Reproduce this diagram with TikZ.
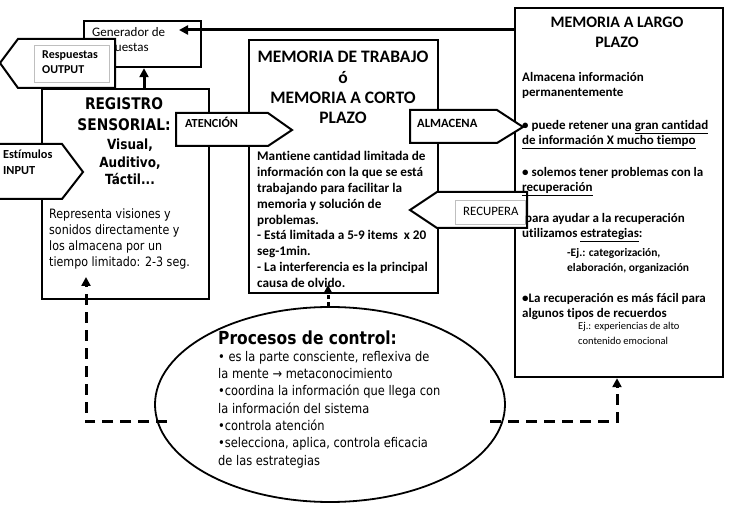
\documentclass[tikz,border=0pt]{standalone}
\usepackage{fontspec}
\setmainfont{Carlito}[Ligatures={NoCommon}]
\newfontfamily\tah[FakeStretch=0.86]{DejaVu Sans}
\usetikzlibrary{arrows.meta,shapes.geometric}
\newcommand\setfs[2]{\fontsize{#1}{#2}\selectfont}
\begin{document}
\begin{tikzpicture}[x=1pt,y=-1pt,
  box/.style={draw, line width=2.2pt, fill=white, inner sep=0pt, anchor=north west},
  pent/.style={draw, line width=2pt, fill=white, line join=miter},
  graybox/.style={draw=black!25, line width=0.7pt, fill=white, inner sep=0pt, anchor=north west},
  txt/.style={inner sep=0pt, anchor=north west, align=left},
  ctxt/.style={inner sep=0pt, anchor=north, align=center},
  arr/.style={line width=3pt, -{Triangle[width=9pt,length=9pt]}},
  dasharr/.style={line width=3pt, dash pattern=on 11pt off 7pt, -{Triangle[width=9pt,length=9pt]}},
  dotarr/.style={line width=3pt, dash pattern=on 4pt off 3pt, -{Triangle[width=9pt,length=9pt]}}
]
\useasboundingbox (0,0) rectangle (732,513);

% main boxes
\node[box, minimum width=117pt, minimum height=46pt] (gen) at (83,20) {};
\node[box, minimum width=167pt, minimum height=210pt] (reg) at (41,88) {};
\node[box, minimum width=189pt, minimum height=253pt] (mt) at (248,39) {};
\node[box, minimum width=208pt, minimum height=369pt] (mlp) at (514,7) {};
\node[draw, ellipse, line width=1.8pt, minimum width=350pt, minimum height=195pt, inner sep=0pt] (pc) at (330,404.5) {};

% generador text
\node[txt, font=\setfs{13}{15}] (gentext) at (92,27) {Generador de\\respuestas};

% pentagon arrows
\path[pent] (0,63) -- (18,39) -- (115,39) -- (115,88) -- (18,88) -- cycle;
\node[graybox, minimum width=75pt, minimum height=37pt] (respbox) at (34,45) {};
\node[txt, font=\bfseries\setfs{12}{15}] (resptext) at (42,51) {Respuestas\\OUTPUT};

\fill[white] (0,144) -- (62,144) -- (83,172) -- (62,199) -- (0,199) -- cycle;
\draw[line width=2pt, line join=miter] (0,144) -- (62,144) -- (83,172) -- (62,199) -- (0,199);
\node[txt, font=\bfseries\setfs{12.3}{16}] (estext) at (3,150) {Estímulos\\INPUT};

\path[pent] (176,113) -- (268,113) -- (292,130) -- (268,146) -- (176,146) -- cycle;
\node[txt, font=\bfseries\setfs{12.3}{14}] (atext) at (185,117) {ATENCIÓN};

\path[pent] (410,110) -- (497,110) -- (523,127) -- (497,143) -- (410,143) -- cycle;
\node[txt, font=\bfseries\setfs{12.6}{14}] (almtext) at (417,119) {ALMACENA};

\path[pent] (410,210) -- (437,192) -- (527,192) -- (527,228) -- (437,228) -- cycle;
\node[graybox, minimum width=70pt, minimum height=24pt] (recbox) at (455,200) {};
\node[txt, font=\setfs{12.8}{14}] (rectext) at (463,207) {RECUPERA};

% registro sensorial text
\node[ctxt, font=\tah\bfseries\setfs{16}{21}] (regtitle) at (124,97) {REGISTRO\\SENSORIAL:};
\node[ctxt, font=\tah\bfseries\setfs{14}{17.5}] (regsub) at (130,139) {Visual,\\Auditivo,\\Táctil...};
\node[txt, font=\tah\setfs{12.9}{16}] (regbody) at (49,209) {Representa visiones y\\sonidos directamente y\\los almacena por un\\tiempo limitado: 2-3 seg.};

% memoria de trabajo text
\node[ctxt, font=\bfseries\setfs{17.5}{20.4}] (mttitle) at (343,51) {MEMORIA DE TRABAJO\\ó\\MEMORIA A CORTO\\PLAZO};
\node[txt, font=\bfseries\setfs{13.2}{15.9}] (mtbody) at (257,151) {Mantiene cantidad limitada de\\información con la que se está\\trabajando para facilitar la\\memoria y solución de\\problemas.\\- Está limitada a 5-9 items\ \ x 20\\seg-1min.\\- La interferencia es la principal\\causa de olvido.};

% memoria a largo plazo text
\node[ctxt, font=\bfseries\setfs{16}{20}] (mlptitle) at (617,17) {MEMORIA A LARGO\\PLAZO};
\node[txt, font=\bfseries\setfs{13}{15.5}] (p1) at (522,72) {Almacena información\\permanentemente};
\node[txt, font=\bfseries\setfs{13}{15.5}] (p2) at (522,120) {• puede retener una \underline{gran cantidad}\\\underline{de información X mucho tiempo}};
\node[txt, font=\bfseries\setfs{13}{15.5}] (p3) at (522,167) {• solemos tener problemas con la\\\underline{recuperación}};
\node[txt, font=\bfseries\setfs{13}{15.5}] (p4) at (522,213) {\hspace*{3pt}para ayudar a la recuperación\\utilizamos \underline{estrategias}:};
\node[txt, font=\bfseries\setfs{11.5}{15.5}] (p5) at (567,248) {-Ej.: categorización,\\elaboración, organización};
\node[txt, font=\bfseries\setfs{13}{15.5}] (p6) at (522,293) {•La recuperación es más fácil para\\algunos tipos de recuerdos};
\node[txt, font=\setfs{10.5}{15}] (p7) at (578,322) {Ej.: experiencias de alto\\contenido emocional};

% procesos de control text
\node[txt, font=\tah\bfseries\setfs{18}{22}] (pctitle) at (218,331) {Procesos de control:};
\node[txt, font=\tah\setfs{13.3}{17.3}] (pcbody) at (218,351) {• es la parte consciente, reflexiva de\\la mente → metaconocimiento\\•coordina la información que llega con\\la información del sistema\\•controla atención\\•selecciona, aplica, controla eficacia\\de las estrategias};

% connectors
\coordinate (x144) at (144,0);
\draw[arr] (x144 |- reg.north) -- (x144 |- gen.south);
\coordinate (y30) at (0,30);
\coordinate (gtip) at (179,30);
\draw[arr] (mlp.west |- y30) -- (gtip);

\coordinate (dl) at (167,422);
\coordinate (regin) at (86,277);
\draw[dasharr] (dl) -| (regin);

\coordinate (dr) at (490,422);
\coordinate (x617) at (617,0);
\draw[dasharr] (dr) -| (x617 |- mlp.south);

\coordinate (x328) at (328,0);
\coordinate (mtin) at (328,285);
\draw[dotarr] (x328 |- pc.north) -- (mtin);
\end{tikzpicture}
\end{document}
